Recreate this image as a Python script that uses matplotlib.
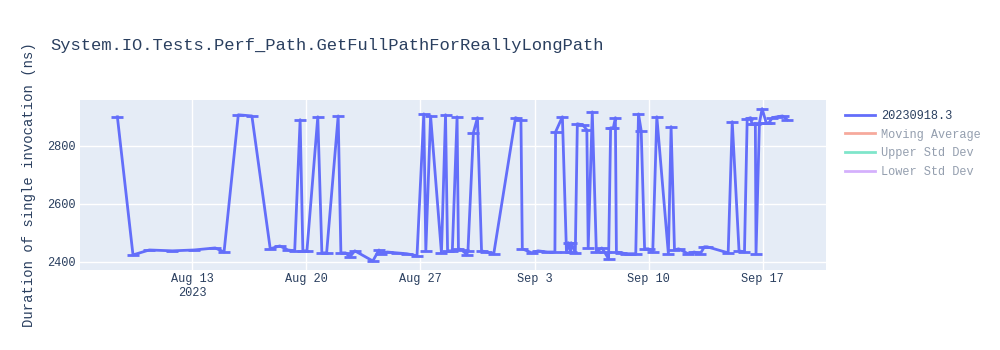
import pandas as pd
import matplotlib
matplotlib.use("Agg")
import matplotlib.pyplot as plt
import matplotlib.dates as mdates
from matplotlib.lines import Line2D
from matplotlib.ticker import FuncFormatter

plt.rcParams['font.family'] = ['Liberation Mono', 'DejaVu Sans']

title = "System.IO.Tests.Perf_Path.GetFullPathForReallyLongPath"
ylabel = "Duration of single invocation (ns)"
series_name = "20230918.3"
hidden_series = ["Moving Average", "Upper Std Dev", "Lower Std Dev"]
hidden_colors = ["#EF553B", "#00CC96", "#AB63FA"]

# timestamps of each run and measured duration (ns)
times = [
    "2023-08-08 10:00", "2023-08-09 09:00", "2023-08-10 09:00", "2023-08-11 19:00",
    "2023-08-13 03:00", "2023-08-14 10:00", "2023-08-14 23:00", "2023-08-15 20:00",
    "2023-08-16 16:00", "2023-08-17 19:00", "2023-08-18 09:00", "2023-08-18 21:00",
    "2023-08-19 07:00", "2023-08-19 15:00", "2023-08-19 19:00", "2023-08-20 01:00",
    "2023-08-20 17:00", "2023-08-20 23:00", "2023-08-21 06:00", "2023-08-21 23:00",
    "2023-08-22 03:00", "2023-08-22 10:00", "2023-08-22 16:00", "2023-08-22 23:30",
    "2023-08-24 02:00", "2023-08-24 11:00", "2023-08-24 14:00", "2023-08-24 23:00",
    "2023-08-25 13:00", "2023-08-26 04:00", "2023-08-26 19:00", "2023-08-27 05:00",
    "2023-08-27 08:00", "2023-08-27 15:00", "2023-08-28 07:00", "2023-08-28 13:00",
    "2023-08-28 16:00", "2023-08-28 23:00", "2023-08-29 06:00", "2023-08-29 08:00",
    "2023-08-29 14:00", "2023-08-29 20:00", "2023-08-29 22:00", "2023-08-30 06:00",
    "2023-08-30 12:00", "2023-08-30 18:00", "2023-08-31 01:00", "2023-08-31 12:00",
    "2023-09-01 20:00", "2023-09-02 04:00", "2023-09-02 06:00", "2023-09-02 20:00",
    "2023-09-03 05:00", "2023-09-03 19:00", "2023-09-04 06:00", "2023-09-04 07:00",
    "2023-09-04 17:00", "2023-09-04 23:00", "2023-09-05 02:00", "2023-09-05 05:00",
    "2023-09-05 06:00", "2023-09-05 12:00", "2023-09-05 15:00", "2023-09-05 23:00",
    "2023-09-06 05:00", "2023-09-06 07:00", "2023-09-06 13:00", "2023-09-06 19:00",
    "2023-09-07 03:00", "2023-09-07 07:00", "2023-09-07 13:00", "2023-09-07 16:00",
    "2023-09-07 20:00", "2023-09-07 23:00", "2023-09-08 00:30", "2023-09-08 08:00",
    "2023-09-08 15:00", "2023-09-08 20:00", "2023-09-09 05:00", "2023-09-09 09:00",
    "2023-09-09 13:00", "2023-09-09 18:00", "2023-09-09 23:45", "2023-09-10 06:00",
    "2023-09-10 12:00", "2023-09-11 05:00", "2023-09-11 09:00", "2023-09-11 14:00",
    "2023-09-11 20:00", "2023-09-12 10:00", "2023-09-12 19:00", "2023-09-13 04:00",
    "2023-09-13 10:00", "2023-09-13 14:00", "2023-09-14 21:00", "2023-09-15 03:00",
    "2023-09-15 13:00", "2023-09-15 21:00", "2023-09-16 01:00", "2023-09-16 06:00",
    "2023-09-16 08:00", "2023-09-16 13:00", "2023-09-16 14:00", "2023-09-16 19:00",
    "2023-09-16 23:00", "2023-09-17 05:00", "2023-09-17 09:00", "2023-09-17 14:00",
    "2023-09-17 21:00", "2023-09-18 05:00", "2023-09-18 12:00",
]
durations = [
    2900, 2424, 2441, 2438,
    2441, 2448, 2434, 2907,
    2903, 2445, 2455, 2441,
    2438, 2890, 2438, 2438,
    2900, 2431, 2431, 2903,
    2431, 2431, 2417, 2438,
    2403, 2441, 2428, 2434,
    2431, 2428, 2421, 2910,
    2438, 2903, 2431, 2907,
    2438, 2438, 2900, 2445,
    2441, 2424, 2438, 2845,
    2897, 2438, 2434, 2428,
    2897, 2890, 2445, 2431,
    2438, 2434, 2434, 2848,
    2900, 2434, 2466, 2434,
    2466, 2431, 2876, 2872,
    2855, 2448, 2917, 2434,
    2448, 2434, 2410, 2862,
    2862, 2897, 2434, 2431,
    2428, 2428, 2428, 2910,
    2852, 2445, 2445, 2434,
    2900, 2428, 2866, 2441,
    2445, 2428, 2434, 2428,
    2452, 2452, 2431, 2883,
    2438, 2434, 2893, 2897,
    2876, 2876, 2428, 2879,
    2928, 2879, 2879, 2897,
    2900, 2903, 2890,
]

x = pd.to_datetime(times)

fig = plt.figure(figsize=(10, 3.5), dpi=100)
ax = fig.add_axes([0.08, 0.2286, 0.746, 0.4857])
ax.set_facecolor("#E5ECF6")

ax.plot(x, durations, color="#636EFA", lw=2, marker="_", ms=8, mew=2, zorder=3)

ax.set_xlim(pd.Timestamp("2023-08-06 03:00"), pd.Timestamp("2023-09-20 21:00"))
ax.set_ylim(2372, 2958)
ax.set_yticks([2400, 2600, 2800])

ax.xaxis.set_major_locator(mdates.WeekdayLocator(byweekday=mdates.SU))
def fmt_date(v, pos):
    d = mdates.num2date(v)
    s = d.strftime("%b ") + str(d.day)
    if pos == 0:
        s += "\n2023"
    return s
ax.xaxis.set_major_formatter(FuncFormatter(fmt_date))

ax.grid(True, color="white", lw=1)
ax.set_axisbelow(True)
for sp in ax.spines.values():
    sp.set_visible(False)
ax.tick_params(length=0, labelsize=8.6, colors="#2a3f5f")
ax.tick_params(axis="y", pad=3)
ax.tick_params(axis="x", pad=2)

ax.set_ylabel(ylabel, fontsize=10, color="#2a3f5f", labelpad=8)
fig.text(0.05, 0.87, title, fontsize=12.3, color="#2a3f5f", va="center")

handles = [Line2D([], [], color="#636EFA", lw=2)]
labels = [series_name]
for name, c in zip(hidden_series, hidden_colors):
    handles.append(Line2D([], [], color=c, lw=2, alpha=0.5))
    labels.append(name)
leg = ax.legend(handles, labels, loc="upper left", bbox_to_anchor=(1.014, 0.99),
                frameon=False, fontsize=8.6, handlelength=2.5, handletextpad=0.5,
                labelspacing=0.55, borderaxespad=0.3)
for i, t in enumerate(leg.get_texts()):
    t.set_color("#2a3f5f")
    if i > 0:
        t.set_alpha(0.5)

fig.savefig("out.png", dpi=100, facecolor="white")
